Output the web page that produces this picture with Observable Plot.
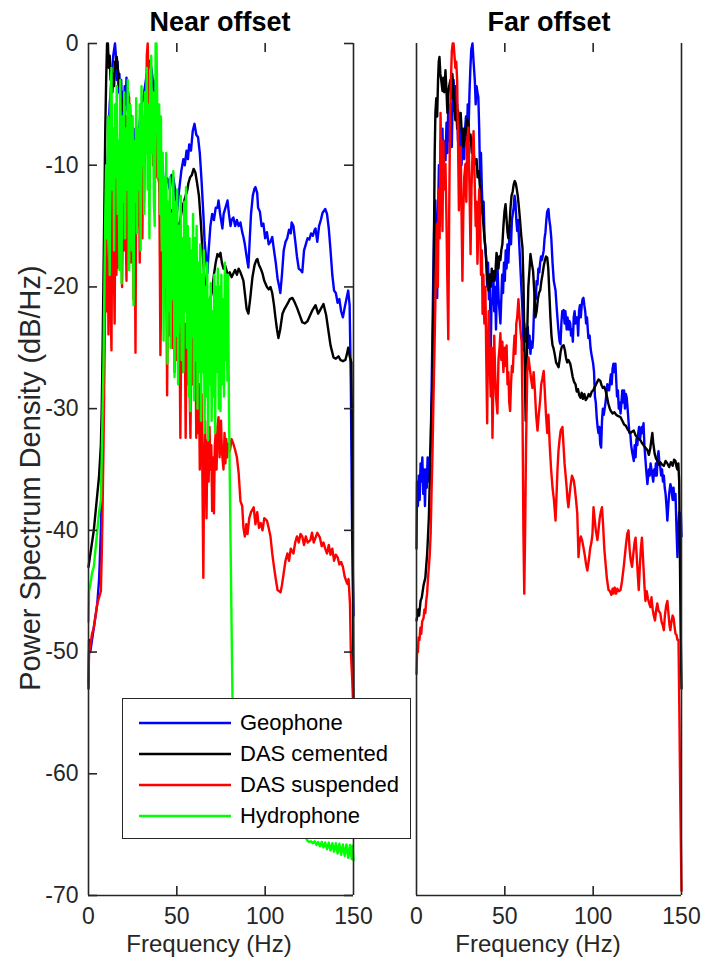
<!DOCTYPE html>
<html>
<head>
<meta charset="utf-8">
<script src="https://cdn.jsdelivr.net/npm/d3@7"></script>
<script src="https://cdn.jsdelivr.net/npm/@observablehq/plot@0.6"></script>
<style>
  html, body { margin: 0; padding: 0; background: #fff; }
  #fig { position: relative; width: 704px; height: 962px; background: #fff; font-family: "Liberation Sans", Arial, sans-serif; color: #262626; overflow: hidden; }
  .abs { position: absolute; white-space: nowrap; line-height: 1; }
  .title { font-weight: bold; font-size: 27px; color: #000; transform: translateX(-50%); }
  .xlabel { font-size: 24px; transform: translateX(-50%); }
  .ylabel { font-size: 29px; transform: translate(-50%, -50%) rotate(-90deg); }
  #legend { position: absolute; left: 122px; top: 698px; width: 289px; height: 141px; border: 1.3px solid #262626; background: #fff; box-sizing: border-box; }
  #legend .row { position: absolute; left: 0; height: 30px; display: flex; align-items: center; font-size: 22px; color: #000; }
  #legend svg { margin-left: 16px; margin-right: 9px; }
</style>
</head>
<body>
<div id="fig"></div>
<script>
// ---------------- data ----------------
const seriesNames = ["Geophone", "DAS cemented", "DAS suspended", "Hydrophone"];
const seriesColors = ["#0000ff", "#000000", "#ff0000", "#00ff00"];
const panelTitles = ["Near offset", "Far offset"];
const xTicks = [0, 50, 100, 150];
const yTicks = [0, -10, -20, -30, -40, -50, -60, -70];

// Near offset: [frequency Hz, PSD dB/Hz]
const nearGeophone = [[0,-53],[0.3,-49],[1,-50],[2,-49],[3,-48],[4,-47],[5,-46],[6,-44],[7,-40],[8,-33],[9,-22],[10,-14],[11,-9],[12,-5],[13,-3],[14,-1],[15,0],[15.5,-1],[16,-3],[16.5,-1.5],[17,-4],[17.5,-2.5],[18,-5],[18.5,-3],[19,-6],[19.5,-4],[20,-6.5],[20.5,-3.5],[21,-5],[21.5,-2.8],[22,-5.5],[22.5,-4],[23,-7],[23.5,-5],[24,-8],[24.5,-6],[25,-9.5],[25.5,-7],[26,-11],[26.5,-8],[27,-10],[28,-8],[29,-6.5],[30,-5],[31,-4.5],[32,-3.5],[33,-2.5],[34,-2],[35,-1.4],[36,-2.5],[37,-4],[38,-3],[39,-6],[40,-9],[41,-11],[42,-10],[43,-13.5],[44,-11],[45,-11.2],[46,-12],[47,-10.8],[48,-11],[49,-12],[50,-14],[51,-12.5],[51.5,-11.8],[52.5,-10.5],[53.7,-9.5],[54.5,-10],[55.5,-8.8],[56.3,-9.5],[57,-8.3],[58,-8.8],[59,-7.2],[60,-6.6],[61,-7.5],[62,-7.7],[63,-9],[64,-11.3],[65,-14],[65.7,-16.2],[66.5,-17.5],[67.3,-18.9],[68,-17],[69,-15],[70,-14],[71,-14.5],[72,-13.5],[73,-13.5],[73.6,-12.9],[74.5,-14],[75.8,-15.2],[76.5,-14],[77.5,-13.5],[78.7,-12.9],[79.5,-14],[80.4,-15],[81,-14.5],[82,-14.3],[83,-15],[84,-14.5],[85,-15],[86,-14.7],[87,-15.5],[87.7,-15.9],[88.5,-16.5],[89.5,-17.5],[90.5,-18.4],[91.3,-16],[92,-14],[93,-12.5],[94,-11.9],[94.5,-11.8],[95.5,-12.3],[96,-13.5],[97,-13.8],[98,-15],[99,-14.8],[100,-16],[101,-15.5],[102,-16.5],[103,-16.3],[104,-15.9],[105,-17],[106,-18],[107,-19.3],[108,-20],[108.6,-20.5],[109.5,-19],[110.5,-17],[111.5,-16.3],[112.5,-16],[113.5,-15.3],[114.5,-15.6],[115,-14.7],[116,-15],[117,-16.2],[118,-17.5],[119,-18.5],[120,-18.6],[121,-18.8],[122,-17],[123,-16.5],[124,-16],[125,-16.1],[126,-15.6],[127,-15.8],[128,-15.3],[128.5,-15.2],[129.5,-16.3],[130.5,-15],[131.5,-14.5],[132.5,-13.9],[134,-13.6],[135,-14],[136,-15.2],[137,-17],[138,-19],[139,-20.3],[140,-20.5],[141,-21.3],[142,-21],[143,-22],[144,-22.5],[145,-21.7],[146,-21],[147,-20.3],[147.8,-21.5],[148.5,-28],[149.2,-40],[150,-47]];

const nearDasCemented = [[0,-43],[0.5,-42.5],[1,-42],[2,-41],[3,-40],[4,-38.5],[5,-37],[6,-35.5],[7,-33],[7.5,-30],[8,-25],[8.5,-19],[9,-13],[9.5,-7],[10,-3],[10.5,0],[11,0],[11.5,-2],[12,-1],[12.5,-3],[13,-2],[13.5,-4],[14,-2.5],[14.5,-3.5],[15,-1.5],[15.5,-2],[16,-1.1],[16.5,-2],[17,-2.5],[17.5,-3.5],[18,-3],[18.5,-4.5],[19,-4.7],[19.5,-5.5],[20,-5],[20.5,-6.5],[21,-6],[21.5,-7.7],[22,-7],[22.5,-8.5],[23,-8],[24,-9.5],[25,-11],[26,-13],[26.5,-12],[27,-11],[28,-10],[29,-9],[30,-8.5],[31,-7.5],[32,-7],[33,-6.3],[34,-5.7],[35,-5.5],[36,-6],[37,-7],[38,-8.5],[39,-10],[40,-11.5],[41,-13],[42,-14],[43,-14.2],[44,-13.5],[45,-13.2],[46,-13.8],[47,-13.7],[48,-15.5],[49,-17.3],[50,-16.5],[51,-15],[52,-14.5],[53,-13.5],[54,-13],[55,-12.5],[56,-12],[56.5,-11.5],[57.5,-11],[58.5,-10.8],[59.5,-10.3],[60.5,-10.6],[61.5,-11.5],[62.5,-12.5],[63.5,-14.5],[64.5,-17],[65.5,-19],[66.5,-20.5],[67.5,-22],[68,-22.1],[69,-21],[70,-20.3],[71,-19],[72,-18],[73,-17.3],[74,-17.5],[74.7,-17.2],[75.5,-18],[76.4,-18.5],[77.5,-18.3],[79,-19.1],[80,-18.8],[81,-19.2],[82,-18.9],[83,-18.6],[84,-19],[85,-18.5],[86,-18.8],[87,-19.2],[87.7,-19.5],[88.5,-20.5],[89.5,-21.8],[90.5,-22.2],[91.5,-21],[92.8,-19.2],[94,-18.2],[95,-17.8],[95.6,-17.7],[96.5,-18.2],[97.5,-18.5],[98.5,-18.9],[99.5,-19.5],[101,-20],[102,-20.2],[103,-20],[104,-20.5],[105,-21.5],[105.8,-22.5],[106.7,-23.5],[107.5,-24.2],[108.5,-23.5],[109.8,-22.2],[111,-21.8],[112.6,-21.4],[114,-21],[115.4,-20.9],[116.5,-21.2],[118,-21.7],[119.5,-22.3],[121,-22.9],[122.5,-23],[124,-22.8],[125.5,-22.3],[126.8,-21.9],[128.5,-21.5],[130,-22.2],[131.5,-21.8],[133,-21.4],[134.5,-22.3],[135.8,-23.6],[137,-24.8],[138.7,-25.8],[140,-25.9],[141.5,-25.7],[142.6,-26],[144,-26.1],[145.4,-26],[146.3,-25.5],[147,-25],[148,-25.8],[148.8,-26.2],[149.3,-35],[149.7,-45],[150,-54]];

const nearDasSuspended = [[0,-52.6],[0.3,-50],[1,-49.5],[2,-48.5],[3,-48],[4,-47],[5,-46],[6,-45.5],[7,-45],[7.5,-42],[8,-38],[8.5,-33],[9,-27],[9.5,-20],[10,-15.4],[10.5,-22],[11,-18],[11.3,-23.9],[11.7,-14],[12,-17.3],[12.5,-21],[13,-25.2],[13.5,-12],[14,-16.2],[14.5,-20],[14.8,-23],[15.3,-10],[15.8,-19],[16.3,-14],[17,-18.4],[17.5,-8],[18,-16],[18.5,-11],[19,-20],[19.5,-13],[20,-17],[20.5,-8],[21,-14],[21.5,-19.5],[22,-6],[22.5,-15],[23,-4.4],[23.5,-12],[24,-18],[24.5,-9],[25,-14],[25.5,-21],[26,-10],[26.6,-25.4],[27,-12],[27.5,-7],[28,-15],[28.5,-9],[29,-18],[29.5,-6],[30,-12],[30.5,-16],[31,-8],[31.5,-13],[32,-4],[32.5,-9],[33,-1],[33.5,0],[34,-3],[34.5,-7],[35,-4],[35.5,-8],[36,-5],[36.5,-10],[37,-6],[37.5,-12],[38,-7],[38.5,-6],[39,-11],[39.6,-6],[40,-9.6],[40.7,-25.6],[41.3,-18.9],[42,-14],[42.5,-18.9],[43,-12],[43.5,-20],[44,-17.3],[44.5,-28.9],[45,-19],[45.5,-24],[46,-16],[46.5,-22],[47,-20.5],[47.5,-25],[48,-19],[48.7,-27],[49.3,-21],[50,-26],[50.5,-19.5],[51,-24],[51.5,-23.9],[52,-32.4],[52.6,-22],[53,-27],[53.5,-21],[54,-26],[54.5,-23],[55,-32.4],[55.5,-23.6],[56,-28],[56.5,-22.5],[57,-26],[57.7,-32.4],[58.3,-24],[59,-28],[59.5,-24.4],[60,-27],[60.5,-23],[61,-32.4],[61.5,-26],[62,-32],[62.5,-28],[63,-35],[63.5,-29],[64,-28.8],[64.5,-36],[65,-43.9],[65.5,-34],[66,-31],[66.8,-39],[67.3,-32.6],[68,-36],[68.5,-31.5],[69,-35],[69.5,-33],[70,-38.4],[70.5,-34],[71,-38.6],[71.5,-33],[72,-32],[72.5,-35],[73,-31.5],[73.6,-30.7],[74.2,-34],[75,-31],[75.5,-33.5],[76.4,-35],[77,-32],[77.5,-34.5],[78,-32.5],[78.5,-34],[79,-32.9],[80,-33.5],[81,-32.5],[82,-32.9],[83,-33.4],[84,-34],[85,-35.3],[86,-37.6],[87,-38],[87.7,-39.8],[88.5,-40.5],[89.3,-39.5],[90,-40.3],[91,-39],[92,-38.5],[93.5,-38.1],[94.5,-39.5],[95.5,-38.5],[96.5,-39.8],[97.5,-39.4],[98.5,-40],[99.5,-39],[101,-39.2],[102,-39.8],[103,-40.5],[104,-41.9],[105,-43],[106,-44],[107,-44.9],[108,-45],[108.7,-45.1],[109.5,-44.5],[110.5,-43.5],[111.5,-42.5],[112.6,-41.9],[113.5,-42.5],[114.5,-41.5],[116,-41.9],[117,-41],[118,-40.5],[119,-41],[120,-40.3],[121,-40.5],[122,-41.2],[123,-40.5],[124,-41],[125.6,-40.8],[126.5,-40.2],[127.5,-41],[128.5,-40.6],[129.5,-40.2],[131,-40.6],[132,-41.3],[133,-41],[134,-41.5],[135,-41.9],[136,-41.2],[137,-42],[138,-41.5],[139,-42.5],[140,-42],[141,-42.2],[142,-42.8],[143,-42.6],[144,-43],[145,-43.8],[146,-44.2],[146.5,-44.4],[147.2,-44],[148,-46],[148.5,-50],[149.2,-52],[150,-55]];

const nearHydrophone = [[0,-47.5],[0.3,-45],[1,-44.5],[2,-43.5],[3,-43],[4,-41.5],[5,-40],[6,-38.5],[7,-37.5],[7.5,-34],[8,-30],[8.5,-26],[9,-20],[9.5,-14],[10,-10],[10.5,-16],[11,-6],[11.5,-14],[12,-19],[12.5,-4],[13,-2],[13.5,-12],[14,-7],[14.5,-17],[15,-5],[15.5,-11],[16,-3.5],[16.5,-14],[17,-8],[17.5,-18.6],[18,-3],[18.7,-19.7],[19.2,-6],[19.7,-13],[20.2,-4],[20.7,-16],[21.2,-7],[21.7,-12],[22.2,-3],[22.7,-14],[23,-18.6],[23.5,-5],[24,-11],[24.5,-17],[25,-6],[25.5,-21.5],[26,-8],[26.5,-13],[27,-4.5],[27.5,-15.6],[28,-7],[28.5,-12],[29,-5],[29.5,-17],[30,-3.5],[30.5,-10],[31,-6],[31.5,-14],[32,-4],[32.5,-9],[33,-2],[33.5,-12],[34,-5],[34.5,-16],[35,-3],[35.5,-1],[36,-9],[36.5,-4],[37,-13],[37.5,-15],[38,0],[38.5,0],[39,-6],[39.5,-11],[40,-5],[40.5,-14],[41,-6],[41.5,-17],[42,-9],[42.5,-24.4],[43,-11],[43.5,-20],[44,-9],[44.7,-26.3],[45,-13],[45.5,-22],[46,-11],[46.5,-25],[47,-14],[47.5,-21],[48,-10.5],[48.7,-27.4],[49.2,-13],[49.7,-24],[50.2,-12],[50.7,-28],[51.2,-15],[51.7,-23],[52.2,-12.5],[52.7,-26],[53.2,-16],[53.7,-27],[54.2,-13],[54.7,-22],[55.2,-11.8],[55.7,-25],[56.2,-15],[56.7,-29],[57.2,-16],[57.7,-30.2],[58.2,-17],[58.7,-24],[59.2,-14],[59.7,-29.3],[60.2,-16],[60.7,-26],[61.2,-15],[61.7,-30],[62.2,-18],[62.7,-27],[63.2,-16.5],[63.7,-31],[64.2,-19],[64.7,-27],[65.2,-17],[65.7,-32],[66.2,-20],[66.7,-29],[67.2,-18],[67.7,-32.6],[68.2,-21],[68.7,-28],[69.2,-19.7],[69.7,-31],[70.2,-22],[70.7,-29],[71.2,-19],[71.7,-32],[72.2,-20],[72.7,-27],[73.2,-18.5],[73.7,-30],[74.2,-20],[74.7,-30.2],[75.2,-19],[75.7,-28],[76.2,-21],[76.7,-29],[77.2,-18],[77.7,-26],[78.2,-19],[78.6,-27.7],[79,-19],[79.5,-30],[80,-36],[80.5,-42],[81,-48],[81.5,-53.7],[83,-54.5],[90,-57],[100,-60],[110,-62.5],[120,-64.5],[124,-65.5],[125,-65.6],[126,-65.55],[127,-65.7],[128,-65.55],[129,-65.85],[130,-65.6],[131,-65.95],[132,-65.6],[133,-66.05],[134,-65.65],[135,-66.2],[136,-65.65],[137,-66.3],[138,-65.7],[139,-66.4],[140,-65.7],[141,-66.55],[142,-65.75],[143,-66.65],[144,-65.8],[145,-66.75],[146,-65.8],[147,-66.9],[148,-65.85],[149,-67.0],[149.5,-65.9],[150,-67.1]];

// Far offset
const farGeophone = [[0,-41.5],[0.3,-36],[0.8,-38],[1.3,-35.5],[1.8,-37.5],[2.3,-34.5],[2.8,-36],[3.3,-34],[3.8,-37],[4.3,-35],[4.8,-38],[5.3,-35],[5.8,-36.5],[6.3,-34],[6.8,-36],[7.3,-35],[8,-33],[8.5,-29],[9,-24],[9.5,-19],[10,-15],[10.7,-12.9],[11.2,-17],[11.7,-20.9],[12.2,-14],[12.7,-10],[13.2,-15],[13.7,-8],[14.2,-12],[14.7,-7],[15.2,-11],[15.7,-8],[16.4,-9.6],[17,-6.5],[17.5,-9],[18,-5],[18.5,-8],[19,-7],[19.5,-5],[20,-8.5],[20.5,-4],[21,-3],[21.5,-5.5],[22,-3.5],[22.5,-6],[23,-5],[23.5,-8],[24,-6],[24.5,-9],[25,-7],[25.5,-10],[26,-8],[26.5,-7],[27,-9.5],[27.5,-7],[28,-6],[28.5,-8],[29,-5],[29.5,-7],[30,-4],[30.5,-2],[31,-0.5],[31.7,0],[32.3,-1.5],[33,-3],[33.5,-5],[34,-3.5],[34.5,-4],[35,-4.4],[35.5,-7],[36,-11.3],[36.5,-9],[37,-12],[37.5,-14],[38,-13],[38.5,-16],[39,-16.8],[39.5,-18],[40,-20],[40.5,-18],[41,-21],[41.5,-19],[42,-25.2],[42.5,-21],[43,-21.4],[43.5,-19],[44,-22],[44.5,-20],[45,-23.5],[45.8,-18.1],[46.5,-21],[47.5,-23],[48,-21],[48.5,-19],[49,-20.5],[49.5,-18],[50,-19.5],[50.5,-17],[51,-18.5],[51.5,-16.5],[52,-18],[52.5,-16],[53,-15],[53.5,-16.5],[54,-14.5],[54.5,-14],[55,-13.5],[55.5,-12.5],[56,-13],[56.5,-14.5],[57,-15.4],[57.5,-14.5],[58,-16],[58.5,-17.5],[59,-19],[59.5,-20.5],[60,-22],[60.5,-25.2],[61,-23],[61.5,-24.5],[62,-23.5],[63,-23.3],[63.5,-25],[64,-24],[64.5,-25.5],[65,-24.5],[65.6,-25],[66,-24.2],[66.5,-22],[67,-20.5],[67.5,-21],[68,-19.5],[68.5,-19.8],[69,-18.5],[69.5,-18.8],[70,-18],[70.5,-17.5],[71,-17.8],[72,-17],[72.5,-16],[73,-15.5],[73.5,-14.5],[74,-13.8],[74.7,-13.6],[75.2,-14.5],[75.7,-15],[76.3,-16],[77,-18],[77.7,-19.5],[78.7,-20.3],[79.5,-22],[80.3,-23.5],[81,-24.5],[81.5,-24.7],[82,-23],[82.5,-22],[83.3,-21.9],[83.8,-23],[84.3,-22],[85,-23.5],[85.5,-22.5],[86,-23.5],[86.5,-22.8],[87,-23],[87.5,-24],[88,-23.5],[88.5,-24.5],[89,-22.5],[89.5,-22],[90,-23],[90.5,-22.5],[91,-22.5],[91.5,-24],[92,-22],[92.5,-21.5],[93,-22.5],[93.5,-21.5],[94,-21],[94.5,-20.9],[95,-21.5],[95.5,-22],[96,-23],[96.5,-22.5],[97.3,-24.2],[98,-24],[98.5,-25],[99,-25.5],[100,-26.3],[100.5,-27],[101,-29],[101.5,-29.5],[102,-30.7],[102.5,-31.5],[103,-32],[103.5,-31.5],[104,-32.9],[104.5,-33.2],[105,-31],[105.5,-30],[106,-30.5],[107,-29.5],[108,-28],[109,-28.5],[110,-27.2],[110.5,-28],[111,-26.7],[111.5,-26.3],[112,-27],[112.6,-26.3],[113,-27.5],[113.5,-29],[114,-28.5],[114.5,-30],[115,-29.5],[115.5,-30.4],[116,-29.5],[116.5,-28.5],[117,-29.5],[117.5,-28.5],[118,-30],[118.5,-28.8],[119,-29.1],[119.5,-30],[120,-31],[120.5,-32],[121,-32],[121.5,-33],[122,-33.5],[123,-34.3],[123.5,-33],[124,-34],[124.5,-32.5],[125,-33],[125.5,-32],[126,-31.5],[126.5,-32.5],[127,-32],[127.5,-31.5],[128,-32],[128.5,-31.2],[129,-33],[129.5,-34],[130,-35],[130.7,-36.2],[131.5,-35],[132,-35.5],[132.5,-34.5],[133,-35],[133.5,-35.5],[134,-36],[134.5,-35],[135,-35.5],[135.5,-34.5],[136,-35.5],[136.5,-34],[137,-33.5],[137.5,-34.5],[138,-34.8],[138.5,-35.5],[139,-35],[139.5,-36],[140,-35.5],[140.5,-36.5],[141,-37],[141.5,-38],[142,-39.2],[142.5,-38],[143,-37],[143.7,-36.2],[144.2,-36.5],[145,-37.5],[145.5,-36.5],[146,-37.5],[146.6,-37],[147.2,-40],[147.7,-42.2],[148.2,-40],[148.7,-38.5],[149.2,-40],[149.6,-38.6],[150,-40.5]];

const farDasCemented = [[0,-47.4],[0.5,-47],[1,-46.5],[1.5,-47],[2.3,-45.8],[3,-45.5],[4,-44.5],[5,-43.9],[6,-42],[6.5,-40.5],[7,-38.9],[7.5,-36],[8,-33],[8.5,-30],[9,-28],[9.3,-24],[9.6,-21.4],[10,-14],[10.3,-9],[10.7,-5.7],[11.2,-4.5],[11.7,-6],[12.2,-3],[12.6,-1.5],[13,-1.1],[13.5,-2.5],[14,-3],[14.7,-3.9],[15.2,-2.8],[15.7,-4],[16.4,-2.2],[17,-4],[17.5,-5.7],[18,-4],[18.5,-3.5],[19.2,-3],[19.7,-4.5],[20.3,-2.5],[20.8,-3.5],[21.3,-5],[22,-6.3],[22.5,-5],[23,-7],[23.5,-5.5],[24,-6.5],[25,-5.7],[25.5,-7],[26,-7.5],[26.6,-8.5],[27.2,-7],[28,-7.5],[28.7,-6.2],[29.4,-6.6],[30,-8],[30.6,-7.5],[31.3,-9],[32,-8.5],[32.7,-9.5],[33.4,-9.9],[34,-9.5],[34.6,-11],[35.3,-10.5],[36,-12],[36.7,-13],[37.4,-14],[38.2,-15.5],[39,-16.8],[39.6,-18],[40.2,-19.5],[40.8,-20.3],[41.4,-19],[42,-20],[42.6,-18.5],[43.1,-19.5],[43.6,-18.7],[44.2,-19.5],[44.8,-18.5],[45.3,-17.2],[45.8,-17.6],[46.4,-18.5],[47,-17.5],[47.5,-17.8],[48,-17],[48.6,-16.5],[49.2,-15],[49.8,-13.8],[50.4,-13.2],[51,-14.5],[51.5,-15.5],[52,-16],[52.6,-15],[53.2,-13.5],[53.8,-12.5],[54.4,-12.2],[55,-11.6],[55.6,-11.3],[56.2,-11.5],[56.8,-12],[57.4,-12.6],[58,-13.5],[58.6,-14.5],[59.3,-15.8],[60,-16.8],[60.6,-20],[61.2,-26],[61.8,-31],[62.3,-28],[62.8,-23],[63.3,-20],[64,-18.5],[64.5,-17.3],[65.2,-18],[66,-18.7],[66.7,-20.5],[67.3,-22.5],[68,-22],[68.7,-21],[69.3,-20.5],[70,-20.3],[70.7,-19.5],[71.3,-19],[72,-18.3],[72.7,-17.8],[73.3,-17.5],[74,-17.6],[74.6,-18.5],[75.2,-20.5],[75.8,-22.5],[76.4,-24],[77,-24.8],[77.5,-25],[78.2,-25.5],[79,-26.2],[79.7,-26.4],[80.4,-26.6],[81,-26],[81.6,-25.3],[82.3,-24.9],[83.3,-24.8],[84,-25.2],[84.6,-25.8],[85.3,-26.2],[86,-26],[87,-26.3],[87.7,-26.8],[88.4,-27.4],[89.2,-27.8],[90,-28],[90.7,-28.6],[91.4,-28.4],[92.1,-28.9],[92.8,-29.1],[93.5,-28.7],[94.2,-29.2],[95,-28.8],[95.8,-29.3],[96.7,-29.1],[97.5,-28.8],[98.3,-29],[99.2,-28.6],[100,-28.5],[101,-28.2],[102,-27.9],[103,-27.6],[104,-27.7],[104.8,-28.1],[105.5,-28.3],[106.3,-28.2],[107,-28.5],[107.8,-29],[108.6,-29.6],[109.4,-30],[110,-30.2],[111,-30.4],[112,-30.3],[113,-30.5],[114,-30.6],[115.5,-30.7],[116.5,-31],[117.5,-31.3],[118.5,-31.4],[119.5,-31.7],[121,-32],[122,-31.9],[123,-31.8],[124,-32.2],[125,-32.4],[126,-32.5],[126.8,-32.6],[127.5,-32.8],[128.5,-33],[129.5,-33.2],[130.7,-33.4],[131.5,-33.8],[132.3,-33.3],[133,-32.5],[133.5,-32],[134,-32.8],[134.8,-33.7],[135.6,-34.1],[136.4,-34.3],[137.2,-34.6],[138,-34.4],[139,-34.6],[140,-34.7],[141,-34.3],[142,-34.5],[143,-34.8],[144,-34.4],[145,-34.7],[145.8,-34.2],[146.6,-34.3],[147.2,-34.8],[147.7,-35],[148.2,-34.5],[148.7,-36],[149.1,-42],[149.5,-48],[150,-53]];

const farDasSuspended = [[0,-51.8],[0.4,-49.5],[0.8,-50],[1.2,-48.8],[1.7,-49],[2.2,-48],[2.7,-48.5],[3.2,-47.5],[4,-47.2],[4.5,-46.5],[5,-46.8],[5.5,-45.8],[6,-45.2],[6.5,-44],[7,-43],[7.5,-42],[8,-40.3],[8.5,-37],[9,-34],[9.6,-29.3],[10.2,-25],[10.7,-21.1],[11.2,-17],[11.6,-14.8],[12.1,-20],[12.6,-12],[13.1,-16],[13.6,-5.7],[14.1,-10],[14.7,-15.4],[15.2,-8],[15.7,-12],[16.4,-9.9],[16.9,-14],[17.4,-19],[18,-24.3],[18.5,-14],[19,-6],[19.5,-3],[20,-0.6],[20.5,0],[21,0],[21.5,-1],[22,-2],[22.5,-1.5],[23,-3],[23.5,-8],[24,-13.7],[24.5,-9],[25,-8.5],[25.5,-14],[26,-19.5],[26.5,-14],[27,-11],[27.7,-9.9],[28.2,-13],[28.7,-8],[29.4,-6.9],[30,-12],[30.6,-17.3],[31.1,-12],[31.7,-9],[32.3,-7.2],[32.9,-11],[33.5,-15],[34,-13],[34.5,-18.1],[35,-15],[35.5,-12],[36,-14.3],[36.5,-19],[37,-17],[37.4,-22.2],[37.9,-19],[38.4,-23],[39,-20],[39.5,-26],[40,-31.2],[40.4,-25.5],[40.9,-22],[41.4,-26],[42,-29],[42.5,-25],[43,-32.4],[43.5,-28],[44,-24],[44.5,-27],[45,-29],[45.8,-30.4],[46.4,-26],[47,-25],[47.5,-23.8],[48,-26],[48.6,-24.5],[49.2,-27],[49.8,-25],[50.4,-26.5],[51,-24.8],[51.5,-28],[52,-27],[52.5,-29.5],[53,-30.2],[53.5,-28],[54,-26.5],[54.5,-27],[55,-25.2],[55.5,-24],[56,-25.5],[56.5,-23],[57,-22.5],[57.7,-21],[58.3,-22.5],[59,-23.8],[59.5,-24.5],[60,-30],[60.5,-40],[61,-45.2],[61.5,-40],[62,-33],[62.7,-27],[63.4,-25.8],[64,-26.5],[64.8,-27.5],[65.6,-28.3],[66.3,-27],[67,-28.5],[67.7,-30.5],[68.5,-31.8],[69.2,-30.5],[70,-29.3],[70.6,-28],[71.3,-27.5],[72,-26.9],[72.6,-28.5],[73.3,-30.5],[74,-32],[74.7,-30.5],[75.4,-33],[76.2,-35],[77,-36.5],[77.8,-37.5],[78.7,-39.2],[79.3,-37],[79.8,-35],[80.4,-33.4],[81,-32.5],[81.6,-31.8],[82.6,-31.5],[83.2,-33],[83.8,-34.5],[84.3,-35.3],[85,-36.5],[85.5,-37.5],[86,-38.1],[86.7,-37],[87.3,-36.2],[88,-35.5],[89,-35.9],[89.6,-36.5],[90.3,-37.5],[91,-38.6],[91.7,-42.2],[92.3,-41],[93,-40.5],[93.7,-40.8],[94.5,-41.4],[95.2,-42],[96,-42.8],[96.7,-43.3],[97.5,-42.5],[98.3,-41.5],[99,-41],[99.6,-40.3],[100.2,-38.1],[100.8,-39],[101.5,-40],[102.4,-40.8],[103,-40],[103.7,-39],[104.3,-38.5],[105,-38.1],[105.6,-39.5],[106.3,-41.5],[107,-42.7],[107.8,-44],[108.7,-44.9],[109.5,-45],[110.3,-45.3],[111,-44.8],[111.5,-45.2],[112.2,-44.7],[113,-45.2],[113.7,-44.8],[114.5,-45],[115.5,-44.9],[116.3,-44.2],[117.3,-43],[118,-42],[118.7,-41],[119.3,-40.3],[120,-40],[120.6,-41.5],[121.3,-42.5],[122,-43],[122.7,-42],[123.4,-41],[124,-40.6],[124.6,-42],[125.2,-43.5],[125.8,-44.9],[126.4,-43],[127,-41.5],[127.6,-40.6],[128.3,-42.5],[129,-44.5],[129.6,-45.8],[130.3,-45],[131,-45.6],[131.7,-46],[132.4,-46.3],[133,-45.5],[133.7,-46.5],[134.3,-47],[135,-47.4],[135.7,-46.5],[136.3,-46],[137,-46.6],[138,-46.8],[138.7,-47.5],[139.4,-47.8],[140,-48.2],[140.6,-47],[141.3,-46.2],[142,-45.8],[142.6,-46.8],[143.2,-47.8],[143.7,-48.2],[144.3,-47.5],[145,-47],[145.5,-47.2],[146,-47.8],[146.6,-48.5],[147.2,-48.6],[147.7,-49],[148.3,-49],[148.8,-55],[149.3,-62],[150,-69.6]];

const nearSeries = [nearGeophone, nearDasCemented, nearDasSuspended, nearHydrophone];
const farSeries = [farGeophone, farDasCemented, farDasSuspended];

// ---------------- drawing ----------------
const AXIS = "#262626";
const plotH = 852, plotW = 265, tickLen = 9;

function panel(series, {left, width, marginLeft, marginRight, yAxis}) {
  const marks = [];
  series.forEach((s, i) => {
    marks.push(Plot.line(s, {x: d => d[0], y: d => d[1], stroke: seriesColors[i], strokeWidth: 2.4}));
  });
  // frame: left, right, bottom
  marks.push(Plot.ruleX([0, 150], {stroke: AXIS, strokeWidth: 1.6}));
  marks.push(Plot.ruleY([-70], {stroke: AXIS, strokeWidth: 1.6}));
  // inward x ticks, bottom and top
  const inner = xTicks.slice(1, -1);
  marks.push(Plot.ruleX(inner, {stroke: AXIS, strokeWidth: 1.6, insetTop: plotH - tickLen}));
  marks.push(Plot.ruleX(inner, {stroke: AXIS, strokeWidth: 1.6, insetBottom: plotH - tickLen}));
  marks.push(Plot.axisX(xTicks, {anchor: "bottom", tickSize: 0, tickPadding: 12, label: null, fontSize: 23, tickFormat: d => String(d), fill: AXIS}));
  if (yAxis) {
    marks.push(Plot.ruleY(yTicks, {stroke: AXIS, strokeWidth: 1.6, insetRight: plotW - tickLen}));
    marks.push(Plot.ruleY(yTicks, {stroke: AXIS, strokeWidth: 1.6, insetLeft: plotW - tickLen}));
    marks.push(Plot.axisY(yTicks, {anchor: "left", tickSize: 0, tickPadding: 10, label: null, fontSize: 23, tickFormat: d => String(d), fill: AXIS}));
  }
  const svg = Plot.plot({
    width, height: 962, marginLeft, marginRight, marginTop: 43, marginBottom: 67,
    x: {domain: [0, 150]},
    y: {domain: [-70, 0], axis: yAxis ? undefined : null},
    style: {background: "transparent", fontFamily: "'Liberation Sans', Arial, sans-serif", color: AXIS, overflow: "visible"},
    marks
  });
  svg.style.position = "absolute";
  svg.style.left = left + "px";
  svg.style.top = "0px";
  return svg;
}

const fig = document.getElementById("fig");
fig.appendChild(panel(nearSeries, {left: 0, width: 365, marginLeft: 88, marginRight: 12, yAxis: true}));
fig.appendChild(panel(farSeries, {left: 365, width: 339, marginLeft: 51, marginRight: 23, yAxis: false}));

function addText(cls, text, x, y) {
  const d = document.createElement("div");
  d.className = "abs " + cls;
  d.textContent = text;
  d.style.left = x + "px";
  d.style.top = y + "px";
  fig.appendChild(d);
  return d;
}
addText("title", panelTitles[0], 220, 9);
addText("title", panelTitles[1], 549, 9);
addText("xlabel", "Frequency (Hz)", 209, 932);
addText("xlabel", "Frequency (Hz)", 538, 932);
addText("ylabel", "Power Spectrum Density (dB/Hz)", 30, 478);

// legend
const legend = document.createElement("div");
legend.id = "legend";
const rowTops = [9, 40, 71, 102];
seriesNames.forEach((name, i) => {
  const row = document.createElement("div");
  row.className = "row";
  row.style.top = rowTops[i] + "px";
  row.innerHTML = `<svg width="92" height="4"><line x1="0" x2="92" y1="2" y2="2" stroke="${seriesColors[i]}" stroke-width="2.4"/></svg><span>${name}</span>`;
  legend.appendChild(row);
});
fig.appendChild(legend);
</script>
</body>
</html>
